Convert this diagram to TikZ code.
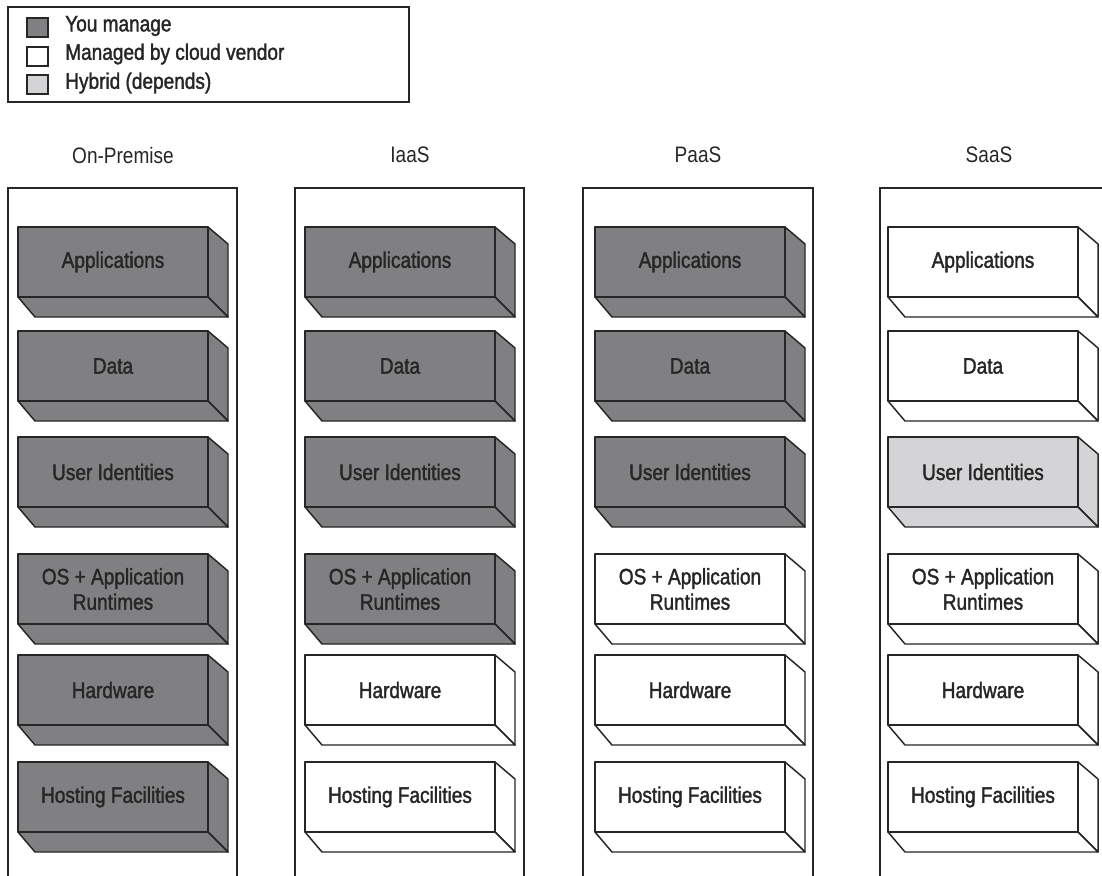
\documentclass[tikz,border=0pt]{standalone}
\usepackage{fontspec}
\setmainfont{Liberation Sans}[FakeStretch=0.85]
\newfontfamily\heavyfont{Liberation Sans}[FakeStretch=0.85,FakeBold=1.6]
\usepackage{tikz}

\definecolor{managegray}{RGB}{128,128,131}
\definecolor{hybridgray}{RGB}{212,212,214}
\definecolor{inkgray}{RGB}{38,38,38}

% one layer block: name, left x, top y, fill, label
\newcommand{\layerbox}[5]{%
  \draw [layer, fill=#4] (#2+190,#3) -- (#2+210,#3+17) -- (#2+210,#3+90) -- (#2+190,#3+70) -- cycle;
  \draw [layer, fill=#4] (#2,#3+70) -- (#2+190,#3+70) -- (#2+210,#3+90) -- (#2+17,#3+90) -- cycle;
  \draw [layer, fill=#4] (#2,#3) rectangle (#2+190,#3+70);
  \node [boxtext] (#1) at (#2+95,#3+35) {#5};
}

\begin{document}
\begin{tikzpicture}[x=0.75pt,y=0.75pt,yscale=-1,xscale=1,
  layer/.style={draw=inkgray, line width=1.1pt, line join=round},
  column/.style={draw=inkgray, line width=1pt},
  boxtext/.style={text=inkgray, align=center, inner sep=0.75pt,
    font=\heavyfont\fontsize{16.8}{19}\selectfont},
  legendtext/.style={text=inkgray, inner sep=0.75pt, anchor=west,
    font=\heavyfont\fontsize{16.8}{19}\selectfont},
  headtext/.style={text=inkgray, inner sep=0.75pt,
    font=\fontsize{16.8}{19}\selectfont},
  swatch/.style={draw=inkgray, line width=1pt}]
\clip (0,0) rectangle (1102,875);

% Legend
\draw [column] (8,7) rectangle (409,102);
\draw [swatch, fill=managegray] (27,18) rectangle (48,37);
\draw [swatch, fill=white] (27,47) rectangle (48,66);
\draw [swatch, fill=hybridgray] (27,75) rectangle (48,94);
% Text Node
\node [legendtext] (lgmanage) at (64,26) {You manage};
% Text Node
\node [legendtext] (lgvendor) at (64,54) {Managed by cloud vendor};
% Text Node
\node [legendtext] (lghybrid) at (64,83) {Hybrid (depends)};

% Column frames
\draw [column] (8,188) rectangle (237,890);
\draw [column] (295,188) rectangle (524,890);
\draw [column] (583,188) rectangle (813,890);
\draw [column] (880,188) rectangle (1112,890);

% Text Node
\node [headtext] (onprem) at (123,155) {On-Premise};
% Text Node
\node [headtext] (iaas) at (410,155) {IaaS};
% Text Node
\node [headtext] (paas) at (698,155) {PaaS};
% Text Node
\node [headtext] (saas) at (989,155) {SaaS};

% On-Premise
\layerbox{onapp}{18}{227}{managegray}{Applications}
\layerbox{ondata}{18}{331}{managegray}{Data}
\layerbox{onuser}{18}{437}{managegray}{User Identities}
\layerbox{onos}{18}{554}{managegray}{OS + Application\\Runtimes}
\layerbox{onhw}{18}{655}{managegray}{Hardware}
\layerbox{onhost}{18}{762}{managegray}{Hosting Facilities}

% IaaS
\layerbox{iaapp}{305}{227}{managegray}{Applications}
\layerbox{iadata}{305}{331}{managegray}{Data}
\layerbox{iauser}{305}{437}{managegray}{User Identities}
\layerbox{iaos}{305}{554}{managegray}{OS + Application\\Runtimes}
\layerbox{iahw}{305}{655}{white}{Hardware}
\layerbox{iahost}{305}{762}{white}{Hosting Facilities}

% PaaS
\layerbox{paapp}{595}{227}{managegray}{Applications}
\layerbox{padata}{595}{331}{managegray}{Data}
\layerbox{pauser}{595}{437}{managegray}{User Identities}
\layerbox{paos}{595}{554}{white}{OS + Application\\Runtimes}
\layerbox{pahw}{595}{655}{white}{Hardware}
\layerbox{pahost}{595}{762}{white}{Hosting Facilities}

% SaaS
\layerbox{saapp}{888}{227}{white}{Applications}
\layerbox{sadata}{888}{331}{white}{Data}
\layerbox{sauser}{888}{437}{hybridgray}{User Identities}
\layerbox{saos}{888}{554}{white}{OS + Application\\Runtimes}
\layerbox{sahw}{888}{655}{white}{Hardware}
\layerbox{sahost}{888}{762}{white}{Hosting Facilities}

\end{tikzpicture}
\end{document}
